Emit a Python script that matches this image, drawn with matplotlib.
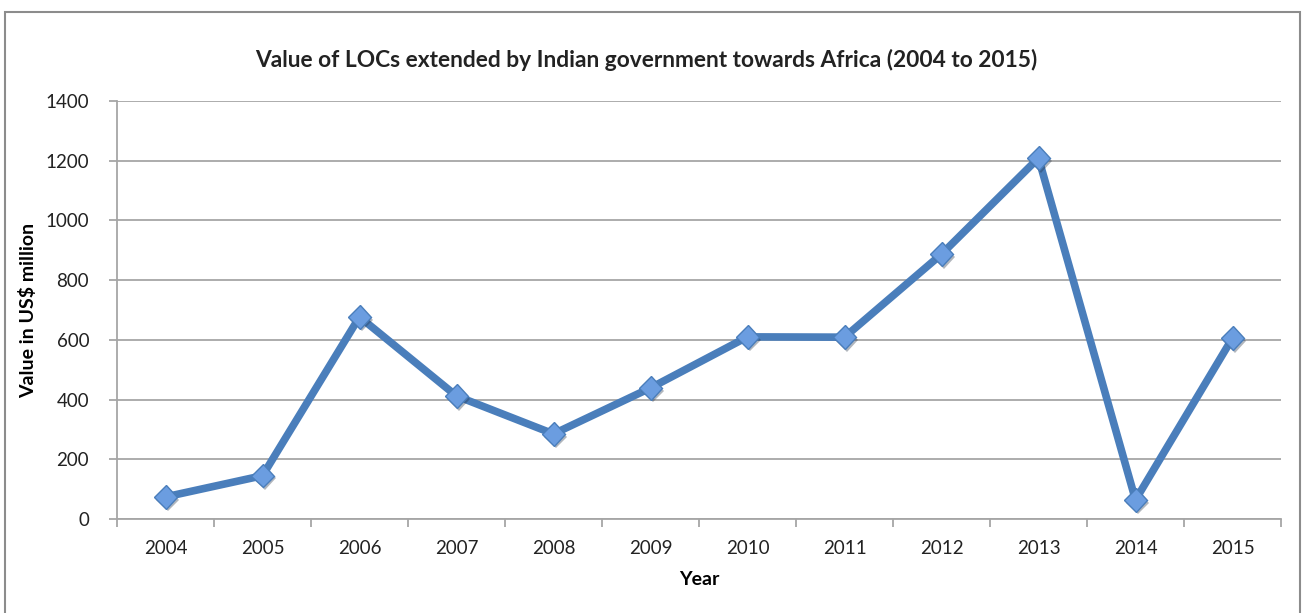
import numpy as np
import matplotlib.pyplot as plt
import matplotlib.patheffects as pe
from matplotlib.patches import Rectangle

# LOCs extended to Africa, US$ million
years = ['2004', '2005', '2006', '2007', '2008', '2009',
         '2010', '2011', '2012', '2013', '2014', '2015']
values = [74, 145, 677, 412, 285, 439, 610, 609, 887, 1209, 64, 606]
y_ticks = [0, 200, 400, 600, 800, 1000, 1200, 1400]

plt.rcParams['font.family'] = ['Lato', 'DejaVu Sans']

fig = plt.figure(figsize=(13.06, 6.13), dpi=100)
W, H = 1306, 613

# outer chart frame
fig.patches.append(Rectangle((5 / W, -0.05), 1295 / W, 1.05 - 12 / H,
                             transform=fig.transFigure, fill=False,
                             edgecolor='#8c8c8c', linewidth=1.5))

ax = fig.add_axes([117 / W, 1 - 519 / H, 1164 / W, 418 / H])

x = np.arange(len(years))
ax.plot(x, values, color='#4a7ebb', linewidth=5.5, solid_joinstyle='miter', zorder=3)
ax.plot(x, values, linestyle='none', marker='D', markersize=12,
        markerfacecolor='#6b9de0', markeredgecolor='#4a7ebb', markeredgewidth=1,
        zorder=4,
        path_effects=[pe.SimplePatchShadow(offset=(1.5, -2), alpha=0.35), pe.Normal()])

ax.set_xlim(-0.5, len(years) - 0.5)
ax.set_ylim(0, 1400)
ax.set_yticks(y_ticks)
ax.set_yticklabels([str(v) for v in y_ticks])
ax.set_xticks(x)
ax.set_xticklabels(years)
ax.set_xticks(np.arange(-0.5, len(years)), minor=True)

ax.grid(axis='y', color='#a6a6a6', linewidth=1.3)
ax.set_axisbelow(True)
for s in ['top', 'right']:
    ax.spines[s].set_visible(False)
for s in ['left', 'bottom']:
    ax.spines[s].set_color('#a6a6a6')
    ax.spines[s].set_linewidth(1.3)

ax.tick_params(axis='x', which='major', length=0, pad=15, labelsize=13.5, colors='#222222')
ax.tick_params(axis='x', which='minor', length=6, width=1.3, color='#a6a6a6')
ax.tick_params(axis='y', length=6, width=1.3, color='#a6a6a6', pad=14,
               labelsize=13.5, labelcolor='#222222')

ax.set_xlabel('Year', fontsize=14, fontweight='bold', labelpad=10)
ax.set_ylabel('Value in US$ million', fontsize=14, fontweight='bold', labelpad=6)

fig.text(646 / W, 1 - 60 / H, 'Value of LOCs extended by Indian government towards Africa (2004 to 2015)',
         ha='center', va='center', fontsize=16.4, fontweight='bold', color='#222222')

fig.savefig('out.png', dpi=100)
